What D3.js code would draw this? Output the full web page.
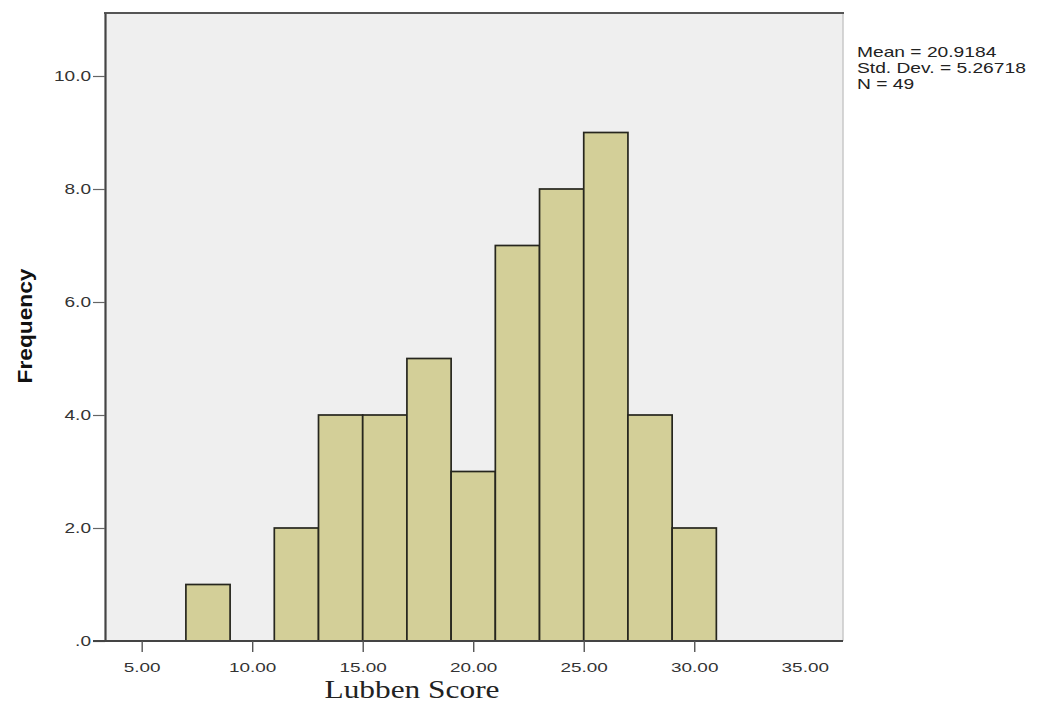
<!DOCTYPE html>
<html><head><meta charset="utf-8">
<script src="https://cdn.jsdelivr.net/npm/d3@7"></script>
<style>
body{margin:0;background:#fff;}
svg{display:block;}
</style></head>
<body>
<svg id="chart" width="1039" height="705"></svg>
<script>
// ---- data ----
const binStarts = [7, 9, 11, 13, 15, 17, 19, 21, 23, 25, 27, 29];
const binWidth = 2;
const frequencies = [1, 0, 2, 4, 4, 5, 3, 7, 8, 9, 4, 2];
const xTickValues = [5, 10, 15, 20, 25, 30, 35];
const xTickLabels = ["5.00", "10.00", "15.00", "20.00", "25.00", "30.00", "35.00"];
const yTickValues = [0, 2, 4, 6, 8, 10];
const yTickLabels = [".0", "2.0", "4.0", "6.0", "8.0", "10.0"];
const statsLines = ["Mean = 20.9184", "Std. Dev. = 5.26718", "N = 49"];
const xTitle = "Lubben Score";
const yTitle = "Frequency";

// ---- layout ----
const svg = d3.select("#chart");
const L = 105, R = 843, T = 13, B = 641;
const x = d3.scaleLinear().domain([3.34, 36.73]).range([L, R]);
const y = d3.scaleLinear().domain([0, 11.115]).range([B, T]);
const STRETCH = 1.36;
function stretch(sel, f){
  sel.each(function(){
    const w = this.getComputedTextLength();
    d3.select(this).attr("textLength", w * (f||STRETCH)).attr("lengthAdjust", "spacingAndGlyphs");
  });
}

// plot background
svg.append("rect").attr("x", L).attr("y", T).attr("width", R - L).attr("height", B - T)
  .attr("fill", "#efefef");

// bars
const data = binStarts.map((s, i) => ({s, f: frequencies[i]})).filter(d => d.f > 0);
svg.append("g").selectAll("rect").data(data).join("rect")
  .attr("x", d => x(d.s))
  .attr("y", d => y(d.f))
  .attr("width", d => x(d.s + binWidth) - x(d.s))
  .attr("height", d => y(0) - y(d.f))
  .attr("fill", "#d3cf98")
  .attr("stroke", "#26261e")
  .attr("stroke-width", 1.7);

// frame: right light, top dark
svg.append("line").attr("x1", R).attr("x2", R).attr("y1", T).attr("y2", B)
  .attr("stroke", "#c8c8c8").attr("stroke-width", 1.5);
svg.append("line").attr("x1", L - 1).attr("x2", R + 1).attr("y1", T).attr("y2", T)
  .attr("stroke", "#555").attr("stroke-width", 2.2);

// y axis
const yAxis = d3.axisLeft(y).tickValues(yTickValues)
  .tickFormat((d, i) => yTickLabels[i]).tickSize(12).tickSizeOuter(0).tickPadding(2);
const gy = svg.append("g").attr("transform", `translate(${L},0)`).call(yAxis);
gy.select(".domain").attr("stroke", "#444").attr("stroke-width", 2.2);
gy.selectAll(".tick line").attr("stroke", "#666").attr("stroke-width", 1.2);
gy.selectAll(".tick text").attr("font-family", "Arial, 'Liberation Sans', sans-serif")
  .attr("font-size", 14).attr("fill", "#333");
stretch(gy.selectAll(".tick text"));

// x axis
const xAxis = d3.axisBottom(x).tickValues(xTickValues)
  .tickFormat((d, i) => xTickLabels[i]).tickSize(11).tickPadding(10).tickSizeOuter(0);
const gx = svg.append("g").attr("transform", `translate(0,${B})`).call(xAxis);
gx.select(".domain").attr("stroke", "#444").attr("stroke-width", 2.2)
  .attr("d", `M${L - 12},0H${R}`);
gx.selectAll(".tick line").attr("stroke", "#555").attr("stroke-width", 1.4)
  .attr("y1", 0).attr("opacity", d => d === 35 ? 0 : 1);
gx.selectAll(".tick text").attr("font-family", "Arial, 'Liberation Sans', sans-serif")
  .attr("font-size", 13.5).attr("fill", "#333");
stretch(gx.selectAll(".tick text"), 1.4);

// axis titles
svg.append("text")
  .attr("x", 412).attr("y", 698)
  .attr("text-anchor", "middle")
  .attr("font-family", "'Liberation Serif', 'Times New Roman', serif")
  .attr("font-size", 26).attr("fill", "#222")
  .attr("textLength", 175).attr("lengthAdjust", "spacingAndGlyphs")
  .text(xTitle);

svg.append("text")
  .attr("transform", "translate(32,326) rotate(-90)")
  .attr("text-anchor", "middle")
  .attr("font-family", "Arial, 'Liberation Sans', sans-serif")
  .attr("font-weight", "bold")
  .attr("font-size", 20).attr("fill", "#111")
  .attr("textLength", 115).attr("lengthAdjust", "spacingAndGlyphs")
  .text(yTitle);

// stats text
const st = svg.append("g").selectAll("text").data(statsLines).join("text")
  .attr("x", 857).attr("y", (d, i) => 57 + i * 16)
  .attr("font-family", "Arial, 'Liberation Sans', sans-serif")
  .attr("font-size", 15).attr("fill", "#222")
  .text(d => d);
stretch(st, 1.28);
</script>
</body></html>
